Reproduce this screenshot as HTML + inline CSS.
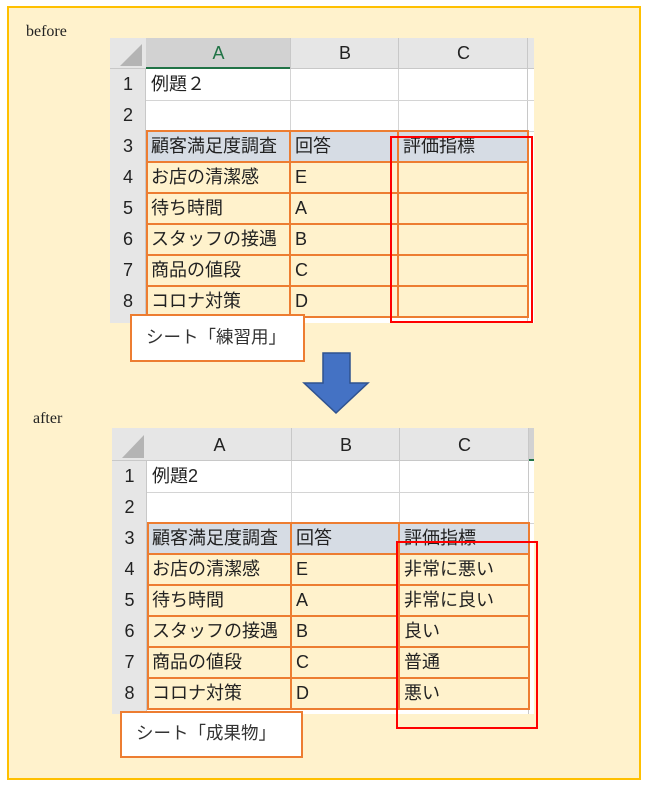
<!DOCTYPE html>
<html><head><meta charset="utf-8">
<style>
body{margin:0;width:648px;height:788px;background:#fff;position:relative;overflow:hidden;font-family:"Liberation Sans","Noto Sans CJK JP",sans-serif;}
.a{position:absolute;box-sizing:border-box;}
.t{position:absolute;font-size:18px;color:#222;line-height:31px;white-space:nowrap;}
.c{text-align:center;}
</style></head><body>
<div class="a" style="left:7px;top:6px;width:634px;height:774px;border:2px solid #ffc000;background:#fff2cc;"></div>
<div class="t" style="left:26px;top:16px;font-family:'Liberation Serif',serif;font-size:16px;">before</div>
<div class="t" style="left:33px;top:403px;font-family:'Liberation Serif',serif;font-size:16px;">after</div>

<!-- SHEET 1 -->
<div class="a" style="left:110px;top:38px;width:424px;height:285px;background:#fff;"></div>
<div class="a" style="left:110px;top:38px;width:424px;height:31px;background:#e6e6e6;border-bottom:1px solid #c8c8c8;"></div>
<div class="a" style="left:146px;top:38px;width:145px;height:31px;background:#d2d2d2;border-bottom:2px solid #217346;"></div>
<div class="a" style="left:110px;top:69px;width:36px;height:254px;background:#e6e6e6;border-right:1px solid #c8c8c8;"></div>
<svg class="a" style="left:110px;top:38px" width="36" height="31"><polygon points="32,6 32,28 10,28" fill="#b4b4b4"/></svg>
<div class="a" style="left:290px;top:38px;width:1px;height:31px;background:#c8c8c8"></div>
<div class="a" style="left:398px;top:38px;width:1px;height:31px;background:#c8c8c8"></div>
<div class="a" style="left:527px;top:38px;width:1px;height:285px;background:#c8c8c8"></div>
<div class="a" style="left:146px;top:100px;width:388px;height:1px;background:#d4d4d4"></div>
<div class="a" style="left:146px;top:131px;width:388px;height:1px;background:#d4d4d4"></div>
<div class="a" style="left:290px;top:69px;width:1px;height:62px;background:#d4d4d4"></div>
<div class="a" style="left:398px;top:69px;width:1px;height:62px;background:#d4d4d4"></div>
<div class="a" style="left:146px;top:131px;width:382px;height:186px;background:#fff2cc;"></div>
<div class="a" style="left:146px;top:131px;width:382px;height:31px;background:#d6dce4;"></div>
<div class="t c" style="left:146px;top:38px;width:145px;color:#217346;">A</div>
<div class="t c" style="left:291px;top:38px;width:108px;">B</div>
<div class="t c" style="left:399px;top:38px;width:129px;">C</div>
<div class="t c" style="left:110px;top:69px;width:36px;">1</div>
<div class="t c" style="left:110px;top:100px;width:36px;">2</div>
<div class="t c" style="left:110px;top:131px;width:36px;">3</div>
<div class="t c" style="left:110px;top:162px;width:36px;">4</div>
<div class="t c" style="left:110px;top:193px;width:36px;">5</div>
<div class="t c" style="left:110px;top:224px;width:36px;">6</div>
<div class="t c" style="left:110px;top:255px;width:36px;">7</div>
<div class="t c" style="left:110px;top:286px;width:36px;">8</div>
<div class="t" style="left:151px;top:69px;">例題２</div>
<div class="t" style="left:151px;top:131px;">顧客満足度調査</div>
<div class="t" style="left:295px;top:131px;">回答</div>
<div class="t" style="left:403px;top:131px;">評価指標</div>
<div class="t" style="left:151px;top:162px;">お店の清潔感</div>
<div class="t" style="left:151px;top:193px;">待ち時間</div>
<div class="t" style="left:151px;top:224px;">スタッフの接遇</div>
<div class="t" style="left:151px;top:255px;">商品の値段</div>
<div class="t" style="left:151px;top:286px;">コロナ対策</div>
<div class="t" style="left:295px;top:162px;">E</div>
<div class="t" style="left:295px;top:193px;">A</div>
<div class="t" style="left:295px;top:224px;">B</div>
<div class="t" style="left:295px;top:255px;">C</div>
<div class="t" style="left:295px;top:286px;">D</div>
<div class="a" style="left:146px;top:130px;width:383px;height:188px;border:2px solid #ed7d31;"></div>
<div class="a" style="left:146px;top:161px;width:383px;height:2px;background:#ed7d31"></div>
<div class="a" style="left:146px;top:192px;width:383px;height:2px;background:#ed7d31"></div>
<div class="a" style="left:146px;top:223px;width:383px;height:2px;background:#ed7d31"></div>
<div class="a" style="left:146px;top:254px;width:383px;height:2px;background:#ed7d31"></div>
<div class="a" style="left:146px;top:285px;width:383px;height:2px;background:#ed7d31"></div>
<div class="a" style="left:289px;top:130px;width:2px;height:188px;background:#ed7d31"></div>
<div class="a" style="left:397px;top:130px;width:2px;height:188px;background:#ed7d31"></div>
<div class="a" style="left:390px;top:136px;width:143px;height:187px;border:2px solid #ff0000;"></div>
<div class="a" style="left:130px;top:314px;width:175px;height:48px;border:2px solid #ed7d31;background:#fff;"></div>
<div class="t" style="left:146px;top:322px;color:#333;font-size:17.5px;">シート「練習用」</div>

<svg class="a" style="left:300px;top:350px" width="72" height="66"><polygon points="23,3 50,3 50,33 68,33 36,63 4,33 23,33" fill="#4472c4" stroke="#2f528f" stroke-width="1.5"/></svg>

<!-- SHEET 2 -->
<div class="a" style="left:112px;top:428px;width:422px;height:286px;background:#fff;"></div>
<div class="a" style="left:112px;top:428px;width:422px;height:33px;background:#e6e6e6;border-bottom:1px solid #c8c8c8;"></div>
<div class="a" style="left:529px;top:428px;width:5px;height:33px;background:#d2d2d2;border-bottom:2px solid #217346;"></div>
<div class="a" style="left:112px;top:461px;width:35px;height:253px;background:#e6e6e6;border-right:1px solid #c8c8c8;"></div>
<svg class="a" style="left:112px;top:428px" width="36" height="33"><polygon points="32,7 32,30 10,30" fill="#b4b4b4"/></svg>
<div class="a" style="left:291px;top:428px;width:1px;height:33px;background:#c8c8c8"></div>
<div class="a" style="left:399px;top:428px;width:1px;height:33px;background:#c8c8c8"></div>
<div class="a" style="left:528px;top:428px;width:1px;height:286px;background:#c8c8c8"></div>
<div class="a" style="left:147px;top:492px;width:387px;height:1px;background:#d4d4d4"></div>
<div class="a" style="left:147px;top:523px;width:387px;height:1px;background:#d4d4d4"></div>
<div class="a" style="left:291px;top:461px;width:1px;height:62px;background:#d4d4d4"></div>
<div class="a" style="left:399px;top:461px;width:1px;height:62px;background:#d4d4d4"></div>
<div class="a" style="left:147px;top:523px;width:382px;height:186px;background:#fff2cc;"></div>
<div class="a" style="left:147px;top:523px;width:382px;height:31px;background:#d6dce4;"></div>
<div class="t c" style="left:147px;top:430px;width:145px;">A</div>
<div class="t c" style="left:292px;top:430px;width:108px;">B</div>
<div class="t c" style="left:400px;top:430px;width:129px;">C</div>
<div class="t c" style="left:112px;top:461px;width:35px;">1</div>
<div class="t c" style="left:112px;top:492px;width:35px;">2</div>
<div class="t c" style="left:112px;top:523px;width:35px;">3</div>
<div class="t c" style="left:112px;top:554px;width:35px;">4</div>
<div class="t c" style="left:112px;top:585px;width:35px;">5</div>
<div class="t c" style="left:112px;top:616px;width:35px;">6</div>
<div class="t c" style="left:112px;top:647px;width:35px;">7</div>
<div class="t c" style="left:112px;top:678px;width:35px;">8</div>
<div class="t" style="left:152px;top:461px;">例題2</div>
<div class="t" style="left:152px;top:523px;">顧客満足度調査</div>
<div class="t" style="left:296px;top:523px;">回答</div>
<div class="t" style="left:404px;top:523px;">評価指標</div>
<div class="t" style="left:152px;top:554px;">お店の清潔感</div>
<div class="t" style="left:152px;top:585px;">待ち時間</div>
<div class="t" style="left:152px;top:616px;">スタッフの接遇</div>
<div class="t" style="left:152px;top:647px;">商品の値段</div>
<div class="t" style="left:152px;top:678px;">コロナ対策</div>
<div class="t" style="left:296px;top:554px;">E</div>
<div class="t" style="left:296px;top:585px;">A</div>
<div class="t" style="left:296px;top:616px;">B</div>
<div class="t" style="left:296px;top:647px;">C</div>
<div class="t" style="left:296px;top:678px;">D</div>
<div class="t" style="left:404px;top:554px;">非常に悪い</div>
<div class="t" style="left:404px;top:585px;">非常に良い</div>
<div class="t" style="left:404px;top:616px;">良い</div>
<div class="t" style="left:404px;top:647px;">普通</div>
<div class="t" style="left:404px;top:678px;">悪い</div>
<div class="a" style="left:147px;top:522px;width:383px;height:188px;border:2px solid #ed7d31;"></div>
<div class="a" style="left:147px;top:553px;width:383px;height:2px;background:#ed7d31"></div>
<div class="a" style="left:147px;top:584px;width:383px;height:2px;background:#ed7d31"></div>
<div class="a" style="left:147px;top:615px;width:383px;height:2px;background:#ed7d31"></div>
<div class="a" style="left:147px;top:646px;width:383px;height:2px;background:#ed7d31"></div>
<div class="a" style="left:147px;top:677px;width:383px;height:2px;background:#ed7d31"></div>
<div class="a" style="left:290px;top:522px;width:2px;height:188px;background:#ed7d31"></div>
<div class="a" style="left:398px;top:522px;width:2px;height:188px;background:#ed7d31"></div>
<div class="a" style="left:396px;top:541px;width:142px;height:188px;border:2px solid #ff0000;"></div>
<div class="a" style="left:120px;top:711px;width:183px;height:47px;border:2px solid #ed7d31;background:#fff;"></div>
<div class="t" style="left:136px;top:718px;color:#333;font-size:17.5px;">シート「成果物」</div>
</body></html>
